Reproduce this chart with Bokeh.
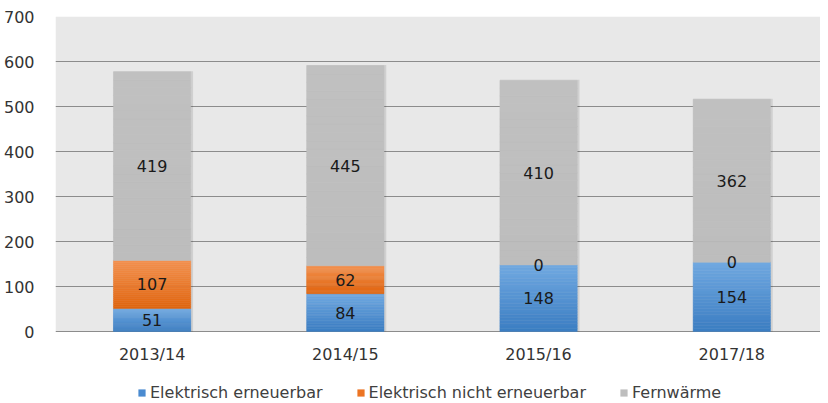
from bokeh.plotting import figure
from bokeh.models import (ColumnDataSource, Range1d, FixedTicker, Legend, LegendItem, BoxAnnotation)
from bokeh.core.properties import value
from bokeh.embed import file_html
from bokeh.resources import INLINE

categories = ["2013/14", "2014/15", "2015/16", "2017/18"]
erneuerbar = [51, 84, 148, 154]
nicht_erneuerbar = [107, 62, 0, 0]
fernwaerme = [419, 445, 410, 362]
series_names = ["Elektrisch erneuerbar", "Elektrisch nicht erneuerbar", "Fernwärme"]
y_ticks = [0, 100, 200, 300, 400, 500, 600, 700]

FONT = "DejaVu Sans"
grad = [("#71A9E1", "#3B7DC2"), ("#F3914F", "#E0650F"), ("#C0C0C0", "#BDBDBD")]
legend_colors = ["#4A8BD0", "#EC7423", "#BEBEBE"]

def hex2rgb(h):
    h = h.lstrip("#")
    return tuple(int(h[i:i + 2], 16) for i in (0, 2, 4))

def mix(c1, c2, t):
    a, b = hex2rgb(c1), hex2rgb(c2)
    return "#%02x%02x%02x" % tuple(round(a[i] + (b[i] - a[i]) * t) for i in range(3))

xs = [i + 0.5 for i in range(len(categories))]
bar_w = 0.4

H = 402
TOP = 16
frame_h = H - TOP
px_per_unit = 315 / 700
y_top = 700
y_bottom = y_top - frame_h / px_per_unit

p = figure(width=820, height=H, output_backend="svg", toolbar_location=None,
           x_range=Range1d(0, 774 / 195.5), y_range=Range1d(y_bottom, y_top),
           x_axis_location=None,
           min_border_left=46, min_border_right=0, min_border_top=TOP, min_border_bottom=0)
p.background_fill_color = "white"
p.border_fill_color = "white"
p.outline_line_color = None

p.add_layout(BoxAnnotation(bottom=0, top=700, fill_color="#E8E8E8", fill_alpha=1,
                           line_color=None, level="image"))

totals = [a + b + c for a, b, c in zip(erneuerbar, nicht_erneuerbar, fernwaerme)]
p.vbar(x=[x + 0.006 for x in xs], width=bar_w + 0.012, bottom=0, top=[t + 1.5 for t in totals],
       fill_color="black", fill_alpha=0.10, line_color=None)

N = 24
bottoms = [0] * len(categories)
label_x, label_y, label_t = [], [], []
for s_idx, vals in enumerate([erneuerbar, nicht_erneuerbar, fernwaerme]):
    sx, sb, st, sc = [], [], [], []
    for i, v in enumerate(vals):
        b0 = bottoms[i]
        if v > 0:
            for k in range(N):
                lo = b0 + v * k / N
                hi = b0 + v * (k + 1) / N
                sx.append(xs[i]); sb.append(lo); st.append(hi)
                sc.append(mix(grad[s_idx][1], grad[s_idx][0], (k + 0.5) / N))
        label_x.append(xs[i]); label_y.append(b0 + v / 2); label_t.append(str(v))
        bottoms[i] = b0 + v
    src = ColumnDataSource(dict(x=sx, bottom=sb, top=st, color=sc))
    p.vbar(x="x", bottom="bottom", top="top", width=bar_w, fill_color="color",
           line_color="color", line_width=0.5, source=src)

p.text(x=label_x, y=label_y, text=label_t, text_font=value(FONT), text_font_size="16px",
       text_color="#1A1A1A", text_align="center", text_baseline="middle")

# category labels (x axis)
p.text(x=xs, y=[0] * len(xs), text=categories, text_font=value(FONT), text_font_size="16px",
       text_color="#333333", text_align="center", text_baseline="middle", y_offset=23)

items = []
for name, col in zip(series_names, legend_colors):
    r = p.quad(left=[-10], right=[-9], bottom=[-1000], top=[-999], fill_color=col, line_color=None)
    items.append(LegendItem(label=name, renderers=[r]))
legend = Legend(items=items, orientation="horizontal", location=(82, 0),
                label_text_font=FONT, label_text_font_size="16px", label_text_color="#404040",
                glyph_width=9, glyph_height=9, label_standoff=4, spacing=33,
                padding=0, margin=0, border_line_color=None, background_fill_alpha=0,
                label_height=16)
p.add_layout(legend, "center")

p.yaxis.ticker = FixedTicker(ticks=y_ticks)
p.yaxis.axis_line_color = None
p.yaxis.major_tick_line_color = None
p.yaxis.minor_tick_line_color = None
p.yaxis.major_label_text_font = FONT
p.yaxis.major_label_text_font_size = "16px"
p.yaxis.major_label_text_color = "#333333"
p.yaxis.major_label_standoff = 15
p.xgrid.grid_line_color = None
p.ygrid.ticker = FixedTicker(ticks=y_ticks)
p.ygrid.grid_line_color = "#8C8C8C"
p.ygrid.grid_line_width = 1.2
p.ygrid.level = "underlay"

open("out.html", "w").write(file_html(p, INLINE))
